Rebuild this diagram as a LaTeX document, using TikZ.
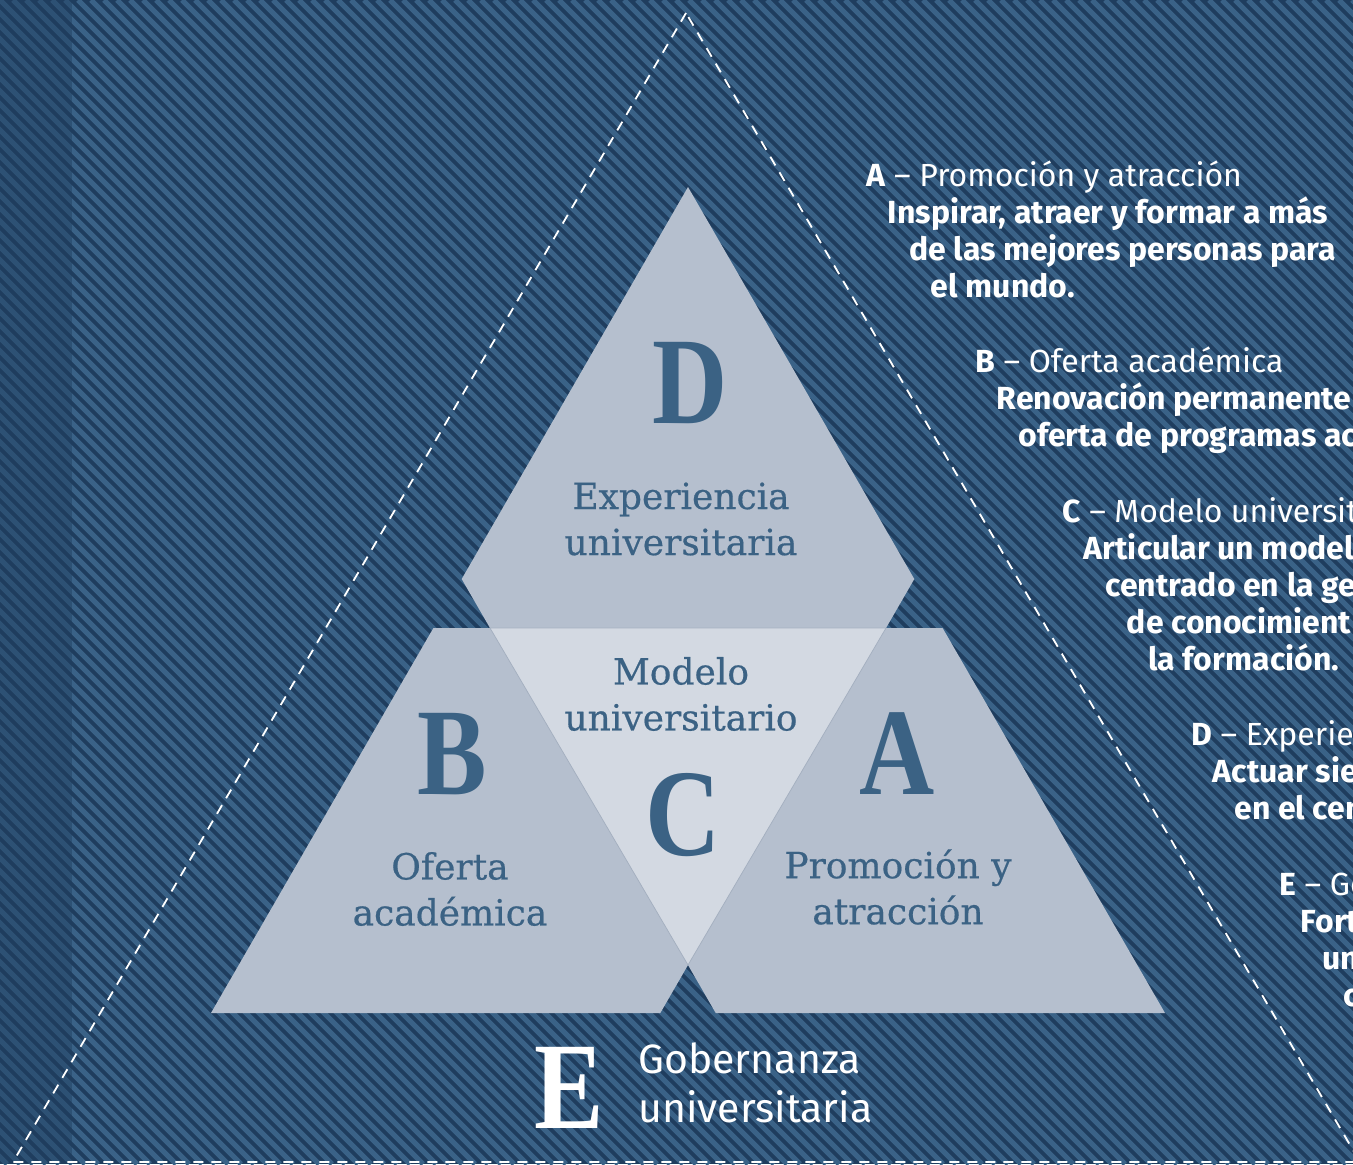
\documentclass[tikz,border=0pt]{standalone}
\usepackage{fontspec}
\setmainfont{Fira Sans}
\newfontfamily\piecefont[FakeBold=0.5]{DejaVu Serif}
\newfontfamily\letterfont[FakeStretch=0.84]{Liberation Serif}

\definecolor{navy}{HTML}{1F3D5E}
\definecolor{stripeblue}{HTML}{3A6287}
\definecolor{piecegrey}{HTML}{B5BFCE}
\definecolor{centregrey}{HTML}{D3D9E2}
\definecolor{edgegrey}{HTML}{A6B1C1}
\definecolor{letterblue}{HTML}{3B6284}

\tikzset{
  stripe/.style={draw=stripeblue, line width=2.5pt},
  piece/.style={fill=piecegrey},
  centrepiece/.style={fill=centregrey, draw=edgegrey, line width=0.4pt},
  bigletter/.style={text=letterblue, font=\letterfont\bfseries\fontsize{62}{62}\selectfont, inner sep=0pt, anchor=base},
  piecelabel/.style={text=letterblue, font=\piecefont\fontsize{18}{23}\selectfont, align=center, inner sep=0pt},
  goaltext/.style={text=white, font=\fontsize{16}{18}\selectfont, anchor=base west, inner sep=0pt},
  outline/.style={draw=white, dash pattern=on 5pt off 4pt, line width=0.9pt},
}

\begin{document}
\begin{tikzpicture}[x=0.5pt, y=-0.5pt]
  \useasboundingbox (0,0) rectangle (1353,1164);
  \clip (0,0) rectangle (1353,1164);

  % striped background
  \fill[navy] (0,0) rectangle (1353,1164);
  \foreach \s in {-1183,-1170,...,1360}
    \draw[stripe] (\s,0) -- ++(1164,1164);
  \fill[navy, opacity=0.45] (0,0) rectangle (72,1164);

  % dashed outer triangle
  \coordinate (top) at (686,13);
  \coordinate (botleft) at (13,1162);
  \coordinate (botright) at (1360,1162);
  \draw[outline] (top) -- (botleft) -- (botright) -- cycle;

  % the four pieces
  \fill[piece] (688,187) -- (914.3,579) -- (886,628) -- (490,628) -- (461.7,579) -- cycle;
  \fill[piece] (433.4,628) -- (490,628) -- (688,965) -- (660.3,1013) -- (211,1013) -- cycle;
  \fill[piece] (886,628) -- (942.6,628) -- (1165,1013) -- (715.7,1013) -- (688,965) -- cycle;
  \filldraw[centrepiece] (490,628) -- (886,628) -- (688,965) -- cycle;

  % letters and labels
  \node[bigletter] (letterD) at (690,423) {D};
  \node[bigletter] (letterB) at (452,794) {B};
  \node[bigletter] (letterC) at (683,855) {C};
  \node[bigletter] (letterA) at (897,794) {A};
  \node[bigletter, text=white] (letterE) at (569,1128) {E};

  \node[piecelabel] (experiencia) at (681,519) {Experiencia\\universitaria};
  \node[piecelabel] (modelo) at (681,694) {Modelo\\universitario};
  \node[piecelabel] (oferta) at (450,889) {Oferta\\académica};
  \node[piecelabel] (promocion) at (898,887) {Promoción y\\atracción};
  \node[text=white, font=\fontsize{20.5}{24.5}\selectfont, align=left, inner sep=0pt, anchor=west]
    (gobernanza) at (638,1083) {Gobernanza\\universitaria};

  % goals, one line per node, following the dashed edge
  \foreach \txt [count=\i from 0] in {{\textbf{A} – Promoción y atracción},
      {\bfseries Inspirar, atraer y formar a más},
      {\bfseries de las mejores personas para},
      {\bfseries el mundo.}}
    \node[goaltext] (goalA-\i) at ({866+21.5*\i},{186+37*\i}) {\txt};
  \foreach \txt [count=\i from 0] in {{\textbf{B} – Oferta académica},
      {\bfseries Renovación permanente},
      {\bfseries oferta de programas ac}}
    \node[goaltext] (goalB-\i) at ({975+21.5*\i},{372+37*\i}) {\txt};
  \foreach \txt [count=\i from 0] in {{\textbf{C} – Modelo universitario},
      {\bfseries Articular un model},
      {\bfseries centrado en la ge},
      {\bfseries de conocimient},
      {\bfseries la formación.}}
    \node[goaltext] (goalC-\i) at ({1062+21.5*\i},{522+37*\i}) {\txt};
  \foreach \txt [count=\i from 0] in {{\textbf{D} – Experiencia universitaria},
      {\bfseries Actuar sie},
      {\bfseries en el cen}}
    \node[goaltext] (goalD-\i) at ({1191+21.5*\i},{745+37*\i}) {\txt};
  \foreach \txt [count=\i from 0] in {{\textbf{E} – Gobernanza universitaria},
      {\bfseries Fort},
      {\bfseries un},
      {\bfseries c}}
    \node[goaltext] (goalE-\i) at ({1279+21.5*\i},{895+37*\i}) {\txt};
\end{tikzpicture}
\end{document}
